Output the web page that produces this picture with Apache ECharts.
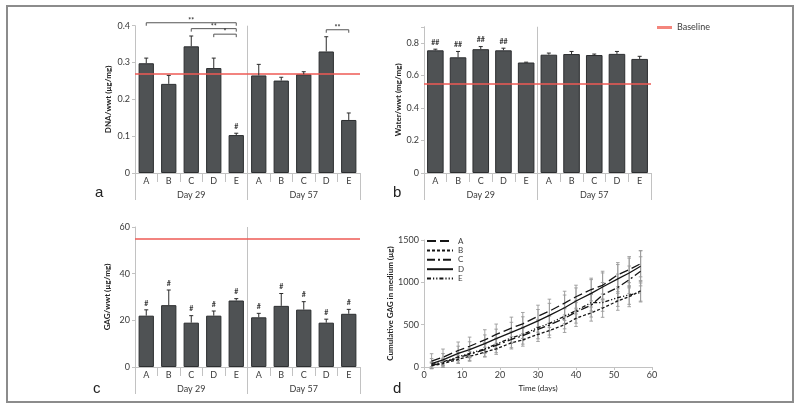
<!DOCTYPE html>
<html><head><meta charset="utf-8">
<script src="https://cdn.jsdelivr.net/npm/echarts@6/dist/echarts.min.js"></script>
<style>html,body{margin:0;padding:0;background:#fff}#c{width:800px;height:411px}</style>
</head><body><div id="c"></div>
<script>
// ---------- data ----------
const categories = ['A','B','C','D','E','A','B','C','D','E'];
const groups = ['Day 29','Day 57'];

const dnaValues = [0.298,0.242,0.344,0.285,0.103,0.265,0.251,0.268,0.330,0.144];
const dnaErrors = [0.014,0.023,0.028,0.027,0.005,0.030,0.009,0.007,0.040,0.019];
const dnaBaseline = 0.268;
const dnaMarks = ['','','','','#','','','','',''];
const dnaBrackets = [[0,4,0.408,'**'],[2,4,0.392,'**'],[3,4,0.377,'*'],[8,9,0.389,'**']];

const waterValues = [0.755,0.712,0.762,0.755,0.680,0.728,0.732,0.726,0.733,0.702];
const waterErrors = [0.007,0.036,0.016,0.013,0.002,0.010,0.016,0.006,0.015,0.016];
const waterBaseline = 0.55;
const waterMarks = ['##','##','##','##','','','','','',''];

const gagValues = [22.0,26.5,19.0,22.0,28.5,21.3,26.2,24.6,19.0,22.8];
const gagErrors = [2.5,6.5,3.0,2.0,0.8,1.7,5.3,3.4,1.5,1.9];
const gagBaseline = 55;
const gagMarks = ['#','#','#','#','#','#','#','#','#','#'];

const days = [2,5,9,12,16,19,23,26,30,33,37,40,44,47,51,54,57];
const cumA = [70,115,195,245,320,385,460,510,600,660,755,830,915,965,1090,1150,1220];
const cumB = [15,40,90,125,175,215,285,320,385,430,500,575,640,695,780,830,900];
const cumC = [20,50,110,150,205,255,325,370,445,495,575,650,730,850,940,1030,1130];
const cumD = [40,85,160,205,275,335,410,465,545,610,700,780,870,945,1040,1110,1190];
const cumE = [30,60,120,160,215,270,345,385,465,515,600,665,760,760,820,850,880];
const errA = [87,97,100,108,120,122,129,134,130,141,140,136,134,166,143,154,155];
const errB = [30,42,48,57,58,66,72,74,83,84,92,96,98,108,110,118,122];
const errC = [40,55,62,72,80,86,97,100,112,118,124,132,140,148,157,163,172];
const errD = [60,74,86,93,104,112,118,128,134,142,150,154,162,166,170,176,182];
const errE = [25,34,44,52,55,62,67,73,80,86,88,95,98,102,104,110,112];
const seriesNames = ['A','B','C','D','E'];

// ---------- styles ----------
const FONT = 'Lato';
const AX = '#c2c2c2';
const TXT = '#3a3a3a';
const BAR = '#4f5254';
const RED = '#ee5a55';

const chart = echarts.init(document.getElementById('c'));

const grids = [
  {left:135, right:440, top:25.7, bottom:238},
  {left:424, right:149, top:26.75, bottom:238},
  {left:135, right:440, top:227, bottom:44},
  {left:424, right:148, top:240, bottom:44}
];

const xAxes = [];
const yAxes = [];
const series = [];

function catAxes(gi){
  xAxes.push({type:'category', gridIndex:gi, data:categories, position:'bottom',
    axisLine:{lineStyle:{color:AX}}, axisTick:{show:true, interval:0, length:9, lineStyle:{color:AX}},
    axisLabel:{interval:0, margin:4, fontSize:9, color:TXT, fontFamily:FONT}});
  xAxes.push({type:'category', gridIndex:gi, data:groups, position:'bottom', offset:9,
    axisLine:{show:false}, axisTick:{show:true, interval:0, length:18, lineStyle:{color:AX}},
    axisLabel:{interval:0, margin:9, fontSize:9, color:TXT, fontFamily:FONT}});
}
function valAxis(gi, min, max, interval, name, nameGap, fmt){
  yAxes.push({type:'value', gridIndex:gi, min:min, max:max, interval:interval,
    name:name, nameLocation:'middle', nameGap:nameGap,
    nameTextStyle:{fontSize:8, fontWeight:'bold', color:'#222', fontFamily:FONT},
    axisLine:{show:true, lineStyle:{color:AX}}, axisTick:{show:true, length:3, lineStyle:{color:AX}},
    splitLine:{show:false},
    axisLabel:{fontSize:9, color:TXT, fontFamily:FONT, margin:5, formatter: fmt || (v => String(v))}});
}

function barPanel(pi, values, errors, baseline, marks, brackets, barGap){
  const xi = pi*2, yi = pi;
  series.push({type:'bar', xAxisIndex:xi, yAxisIndex:yi, data:values, barCategoryGap:barGap,
    itemStyle:{color:BAR, borderColor:'#2c2e30', borderWidth:1}, z:2});
  series.push({type:'line', name:'Baseline', xAxisIndex:xi, yAxisIndex:yi, data:[], symbol:'none',
    lineStyle:{color:RED, width:1.6},
    markLine:{silent:true, symbol:'none', label:{show:false}, lineStyle:{color:RED, width:1.6, type:'solid'},
      data:[{yAxis:baseline}]}, z:4});
  // error bars + marks
  series.push({type:'custom', xAxisIndex:xi, yAxisIndex:yi, clip:false, z:5,
    data: values.map((v,i)=>[i, v, v+errors[i]]),
    renderItem: function(params, api){
      const top = api.coord([api.value(0), api.value(2)]);
      const base = api.coord([api.value(0), api.value(1)]);
      const ch = [
        {type:'line', shape:{x1:top[0], y1:base[1], x2:top[0], y2:top[1]}, style:{stroke:'#2b2b2b', lineWidth:1}},
        {type:'line', shape:{x1:top[0]-2, y1:top[1], x2:top[0]+2, y2:top[1]}, style:{stroke:'#2b2b2b', lineWidth:1}}
      ];
      const m = marks[params.dataIndex];
      if (m) ch.push({type:'text', style:{text:m, x:top[0], y:top[1]-3, align:'center', verticalAlign:'bottom',
        fontSize:7, fontWeight:'bold', fill:'#333', fontFamily:FONT}});
      return {type:'group', children:ch};
    }});
  // divider between day groups
  series.push({type:'custom', xAxisIndex:xi, yAxisIndex:yi, clip:false, z:3, data:[[0]],
    renderItem: function(params, api){
      const cs = params.coordSys;
      const x = (api.coord([4,0])[0] + api.coord([5,0])[0]) / 2;
      return {type:'line', shape:{x1:x, y1:cs.y, x2:x, y2:cs.y+cs.height}, style:{stroke:AX, lineWidth:1}};
    }});
  if (brackets && brackets.length){
    series.push({type:'custom', xAxisIndex:xi, yAxisIndex:yi, clip:false, z:5,
      data: brackets.map(b=>[b[0], b[1], b[2]]),
      renderItem: function(params, api){
        const p1 = api.coord([api.value(0), api.value(2)]);
        const p2 = api.coord([api.value(1), api.value(2)]);
        const t = brackets[params.dataIndex][3];
        return {type:'group', children:[
          {type:'polyline', shape:{points:[[p1[0],p1[1]+3],[p1[0],p1[1]],[p2[0],p2[1]],[p2[0],p2[1]+3]]},
            style:{stroke:'#555', lineWidth:1, fill:'none'}},
          {type:'text', style:{text:t, x:(p1[0]+p2[0])/2, y:p1[1]+1.5, align:'center', verticalAlign:'bottom',
            fontSize:7, fontWeight:'bold', fill:'#333', fontFamily:FONT}}
        ]};
      }});
  }
}

catAxes(0); valAxis(0, 0, 0.4, 0.1, 'DNA/wwt (µg/mg)', 23);
catAxes(1); valAxis(1, 0, 0.9, 0.2, 'Water/wwt (mg/mg)', 22, v => v > 0.85 ? '' : String(v));
catAxes(2); valAxis(2, 0, 60, 20, 'GAG/wwt (µg/mg)', 24);
barPanel(0, dnaValues, dnaErrors, dnaBaseline, dnaMarks, dnaBrackets, '32%');
barPanel(1, waterValues, waterErrors, waterBaseline, waterMarks, null, '27%');
barPanel(2, gagValues, gagErrors, gagBaseline, gagMarks, null, '32%');

// panel d
xAxes.push({type:'value', gridIndex:3, min:0, max:60, interval:10, name:'Time (days)', nameLocation:'middle', nameGap:17,
  nameTextStyle:{fontSize:8, color:'#222', fontFamily:FONT},
  axisLine:{lineStyle:{color:AX}}, axisTick:{show:true, length:3, lineStyle:{color:AX}}, splitLine:{show:false},
  axisLabel:{fontSize:9, color:TXT, fontFamily:FONT, margin:4}});
valAxis(3, 0, 1500, 500, 'Cumulative GAG in medium (µg)', 24);

const cumAll = [cumA, cumB, cumC, cumD, cumE];
const errAll = [errA, errB, errC, errD, errE];
const dashTypes = [[9,4],[3,2],[8,3,2,3],'solid',[4,2,1.2,2,1.2,2]];
cumAll.forEach((vals, k) => {
  const errs = errAll[k];
  series.push({type:'custom', xAxisIndex:6, yAxisIndex:3, z:2,
    data: days.map((d,i)=>[d, vals[i]-errs[i], vals[i]+errs[i]]),
    renderItem: function(params, api){
      const lo = api.coord([api.value(0), api.value(1)]);
      const hi = api.coord([api.value(0), api.value(2)]);
      const st = {stroke:'#9a9a9a', lineWidth:0.9};
      return {type:'group', children:[
        {type:'line', shape:{x1:lo[0], y1:lo[1], x2:hi[0], y2:hi[1]}, style:st},
        {type:'line', shape:{x1:hi[0]-1.8, y1:hi[1], x2:hi[0]+1.8, y2:hi[1]}, style:st},
        {type:'line', shape:{x1:lo[0]-1.8, y1:lo[1], x2:lo[0]+1.8, y2:lo[1]}, style:st}
      ]};
    }});
});
cumAll.forEach((vals, k) => {
  series.push({type:'line', name:seriesNames[k], xAxisIndex:6, yAxisIndex:3, z:4,
    data: days.map((d,i)=>[d, vals[i]]), symbol:'none', showSymbol:false,
    itemStyle:{color:'#151515'},
    lineStyle:{color:'#151515', width:1.3, type:dashTypes[k]}});
});

chart.setOption({
  animation:false,
  backgroundColor:'#fff',
  grid: grids,
  xAxis: xAxes,
  yAxis: yAxes,
  legend: [
    {data:[{name:'Baseline', icon:'rect', itemStyle:{color:'#f4857c'}}], left:652, top:18,
      itemWidth:15, itemHeight:3, textStyle:{fontSize:9, color:TXT, fontFamily:FONT}, selectedMode:false},
    {data:seriesNames, orient:'vertical', left:426, top:237, itemWidth:26, itemHeight:8, itemGap:1.4,
      itemStyle:{opacity:0},
      textStyle:{fontSize:8, color:TXT, fontFamily:FONT, lineHeight:8}, selectedMode:false, padding:0}
  ],
  series: series,
  graphic: [
    {type:'rect', shape:{x:7, y:6, width:786, height:396}, style:{fill:'none', stroke:'#8c8c8c', lineWidth:2}, silent:true},
    {type:'text', left:95, top:185, style:{text:'a', fontSize:15, fill:'#222', fontFamily:'Liberation Sans'}},
    {type:'text', left:393, top:185, style:{text:'b', fontSize:15, fill:'#222', fontFamily:'Liberation Sans'}},
    {type:'text', left:93, top:381, style:{text:'c', fontSize:15, fill:'#222', fontFamily:'Liberation Sans'}},
    {type:'text', left:393, top:381, style:{text:'d', fontSize:15, fill:'#222', fontFamily:'Liberation Sans'}}
  ]
});
</script></body></html>
